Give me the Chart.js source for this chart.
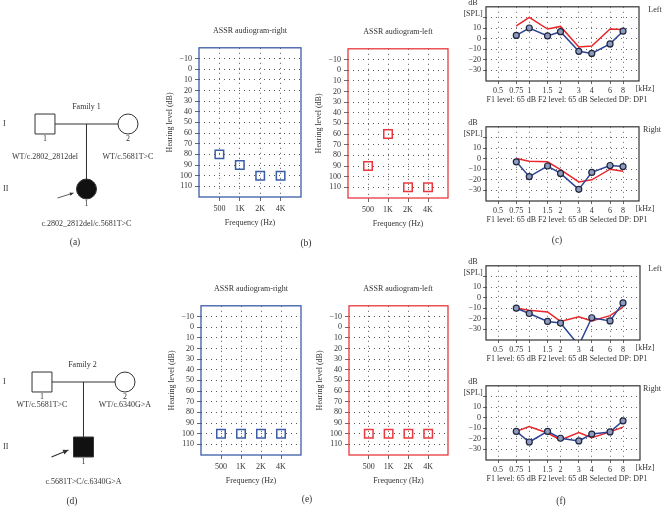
<!DOCTYPE html>
<html>
<head>
<meta charset="utf-8">
<script src="https://cdn.jsdelivr.net/npm/chart.js@4"></script>
<style>
  body { margin: 0; width: 666px; height: 507px; position: relative; background: #fff; overflow: hidden;
         font-family: 'Liberation Serif', 'DejaVu Serif', serif; color: #333; }
  .txt { position: absolute; font-size: 8px; white-space: nowrap; transform: translate(-50%, -50%); line-height: 1; }
  .lbl { font-size: 9.5px; }
</style>
</head>
<body>
<script>
// ---- pedigrees ----
const generations = ['I', 'II'];
const family1Title = 'Family 1';
const family1 = [
    { gen: 1, slot: 0, no: '1', sex: 'M', affected: false, genotype: 'WT/c.2802_2812del' },
    { gen: 1, slot: 2, no: '2', sex: 'F', affected: false, genotype: 'WT/c.5681T>C' },
    { gen: 2, slot: 1, no: '1', sex: 'F', affected: true, proband: true, genotype: 'c.2802_2812del/c.5681T>C' }
];
const family2Title = 'Family 2';
const family2 = [
    { gen: 1, slot: 0, no: '1', sex: 'M', affected: false, genotype: 'WT/c.5681T>C' },
    { gen: 1, slot: 2, no: '2', sex: 'F', affected: false, genotype: 'WT/c.6340G>A' },
    { gen: 2, slot: 1, no: '1', sex: 'M', affected: true, proband: true, genotype: 'c.5681T>C/c.6340G>A' }
];

// ---- ASSR thresholds (dB HL) ----
const assrFreqs = ['500', '1K', '2K', '4K'];
const assrLevels = [-10, 0, 10, 20, 30, 40, 50, 60, 70, 80, 90, 100, 110];
const fam1AssrRight = [80, 90, 100, 100];
const fam1AssrLeft = [90, 60, 110, 110];
const fam2AssrRight = [100, 100, 100, 100];
const fam2AssrLeft = [100, 100, 100, 100];

// ---- DPOAE (dB SPL) ----
const dpFreqs = [0.5, 0.75, 1, 1.5, 2, 3, 4, 6, 8];
const dpMeasured = [0.75, 1, 1.5, 2, 3, 4, 6, 8];
const dpLevels = [-30, -20, -10, 0, 10, 20];
const fam1DpLeftRed = [12, 20, 9, 11.5, -8, -7, 9, 8.5];
const fam1DpLeftBlue = [3, 10, 2.5, 6.5, -12, -14, -5, 7];
const fam1DpRightRed = [0, -2.5, -3, -10.5, -22, -20, -10, -12];
const fam1DpRightBlue = [-3, -17, -7, -14, -29, -13, -6.5, -7.5];
const fam2DpLeftRed = [-10, -12, -13.5, -22.5, -18, -22, -17, -9];
const fam2DpLeftBlue = [-10, -15, -22.5, -24, -45, -19, -22, -5];
const fam2DpRightRed = [-13, -8.5, -14.5, -21, -14, -19, -13.5, -9];
const fam2DpRightBlue = [-13, -23, -13, -19.5, -22, -15.5, -13.5, -3];

const serif = "'Liberation Serif', 'DejaVu Serif', serif";
Chart.defaults.font.family = serif;
Chart.defaults.font.size = 8;
Chart.defaults.color = '#333';

const fmt = v => v < 0 ? '\u2212' + (-v) : String(v);

function place(left, top, w, h) {
    const div = document.createElement('div');
    div.style.cssText = `position:absolute;left:${left}px;top:${top}px;width:${w}px;height:${h}px`;
    const c = document.createElement('canvas');
    c.width = w; c.height = h;
    div.appendChild(c);
    document.body.appendChild(div);
    return c;
}

function text(str, x, y, cls) {
    const d = document.createElement('div');
    d.className = 'txt' + (cls ? ' ' + cls : '');
    d.style.left = x + 'px';
    d.style.top = y + 'px';
    d.textContent = str;
    document.body.appendChild(d);
}

// border round the plot area
const framePlugin = {
    id: 'frame',
    afterDatasetsDraw(chart, args, opts) {
        const { ctx, chartArea: a } = chart;
        ctx.save();
        ctx.strokeStyle = opts.color;
        ctx.lineWidth = opts.width;
        ctx.strokeRect(a.left, a.top, a.right - a.left, a.bottom - a.top);
        ctx.restore();
    }
};

function dottedGrid(color, tickLength) {
    return { color: color, lineWidth: 1, tickLength: tickLength,
             tickBorderDash: [], tickColor: '#444', tickWidth: 0.8 };
}
const dottedBorder = { display: false, dash: [1, 4] };

function assrChart(area, values, color) {
    const [x0, y0, x1, y1] = area;
    const yW = 33, padL = 36, padR = 9, xH = 30, padB = 2;
    const left = x0 - padL - yW, top = y0;
    const w = (x1 - x0) + padL + yW + padR, h = (y1 - y0) + xH + padB;
    new Chart(place(left, top, w, h), {
        type: 'scatter',
        data: {
            datasets: [{
                data: values.map((v, i) => ({ x: i + 1, y: v })),
                pointStyle: 'rect', pointRadius: 6, pointHoverRadius: 6,
                borderColor: color, backgroundColor: 'rgba(0,0,0,0)', pointBorderWidth: 1.5
            }]
        },
        options: {
            responsive: false, animation: false, events: [],
            layout: { autoPadding: false, padding: { left: padL, right: padR, top: 0, bottom: padB } },
            plugins: { legend: { display: false }, tooltip: { enabled: false }, frame: { color: color, width: 1.3 } },
            scales: {
                x: {
                    type: 'linear', min: 0, max: 5,
                    afterBuildTicks: s => { s.ticks = assrFreqs.map((f, i) => ({ value: i + 1 })); },
                    afterFit: s => { s.height = xH; },
                    ticks: { callback: v => assrFreqs[v - 1], autoSkip: false, maxRotation: 0, padding: 3 },
                    grid: dottedGrid('#555', 4),
                    border: dottedBorder,
                    title: { display: true, text: 'Frequency (Hz)', padding: 0, font: { size: 8, lineHeight: 1 } }
                },
                y: {
                    type: 'linear', min: -20, max: 120, reverse: true,
                    afterBuildTicks: s => { s.ticks = assrLevels.map(v => ({ value: v })); },
                    afterFit: s => { s.width = yW; },
                    ticks: { callback: v => fmt(v), padding: 3, autoSkip: false },
                    grid: dottedGrid('#555', 4),
                    border: dottedBorder,
                    title: { display: true, text: 'Hearing level (dB)', padding: 0, font: { size: 8, lineHeight: 1 } }
                }
            }
        },
        plugins: [framePlugin]
    });
}

function dpChart(area, red, blue) {
    const [x0, y0, x1, y1] = area;
    const left = 440, w = 226, yW = 20, xH = 15;
    const padL = x0 - left - yW, padR = left + w - x1;
    const top = y0 - 5, h = (y1 - y0) + 5 + xH + 1;
    new Chart(place(left, top, w, h), {
        type: 'line',
        data: {
            datasets: [
                { data: blue.map((v, i) => ({ x: dpMeasured[i], y: v })), borderColor: '#2d4595', borderWidth: 1.5,
                  pointRadius: 3, pointHoverRadius: 3, pointBorderColor: '#1e2640', pointBorderWidth: 1.2,
                  pointBackgroundColor: '#8e9bbd', tension: 0 },
                { data: red.map((v, i) => ({ x: dpMeasured[i], y: v })), borderColor: '#e8262b', borderWidth: 1.5,
                  pointRadius: 0, tension: 0 }
            ]
        },
        options: {
            responsive: false, animation: false, events: [],
            layout: { autoPadding: false, padding: { left: padL, right: padR, top: 5, bottom: 1 } },
            plugins: { legend: { display: false }, tooltip: { enabled: false }, frame: { color: '#333', width: 1.2 } },
            scales: {
                x: {
                    type: 'logarithmic', min: 0.383, max: 0.383 * Math.pow(2, (x1 - x0) / 31.25),
                    afterBuildTicks: s => { s.ticks = dpFreqs.map(v => ({ value: v })); },
                    afterFit: s => { s.height = xH; },
                    ticks: { callback: v => String(v), autoSkip: false, maxRotation: 0, padding: 2 },
                    grid: dottedGrid('#666', 3),
                    border: dottedBorder
                },
                y: {
                    type: 'linear', min: -40, max: 30,
                    afterBuildTicks: s => { s.ticks = dpLevels.map(v => ({ value: v })); },
                    afterFit: s => { s.width = yW; },
                    ticks: { callback: v => v >= 20 ? '' : fmt(v), padding: 2, autoSkip: false },
                    grid: dottedGrid('#666', 3),
                    border: dottedBorder
                }
            }
        },
        plugins: [framePlugin]
    });
}

// texts and proband arrow of a pedigree, placed through the chart scales
const pedigreeLabels = {
    id: 'pedigreeLabels',
    afterDatasetsDraw(chart, args, o) {
        const { ctx, scales: { x, y } } = chart;
        ctx.save();
        ctx.fillStyle = '#333';
        ctx.strokeStyle = '#333';
        ctx.font = `8px ${serif}`;
        ctx.textAlign = 'center';
        ctx.textBaseline = 'middle';
        const child = o.members.find(m => m.gen === 2);
        ctx.fillText(o.title, x.getPixelForValue(child.slot) + o.titleDx, y.getPixelForValue(1) - 17);
        generations.forEach((g, i) => {
            ctx.textAlign = 'left';
            ctx.fillText(g, o.numeralX, y.getPixelForValue(i + 1));
        });
        ctx.textAlign = 'center';
        o.members.forEach(m => {
            const px = x.getPixelForValue(m.slot), py = y.getPixelForValue(m.gen);
            ctx.fillText(m.no, px, py + 15);
            ctx.fillText(m.genotype, px, py + (m.gen === 1 ? o.parentDy : 35));
            if (m.proband) {
                const sx = px - o.arrow[0], sy = py + o.arrow[1], ex = px - o.arrow[2], ey = py + o.arrow[3];
                ctx.lineWidth = o.arrowWidth;
                ctx.beginPath(); ctx.moveTo(sx, sy); ctx.lineTo(ex, ey); ctx.stroke();
                const ang = Math.atan2(ey - sy, ex - sx), hl = o.headLen;
                ctx.beginPath();
                ctx.moveTo(ex, ey);
                ctx.lineTo(ex - hl * Math.cos(ang - 0.45), ey - hl * Math.sin(ang - 0.45));
                ctx.lineTo(ex - hl * Math.cos(ang + 0.45), ey - hl * Math.sin(ang + 0.45));
                ctx.closePath(); ctx.fill();
            }
        });
        ctx.restore();
    }
};

function pedigreeChart(left, top, members, labels) {
    const w = 172, h = 160;
    const father = members.find(m => m.gen === 1 && m.sex === 'M');
    const mother = members.find(m => m.gen === 1 && m.sex === 'F');
    const child = members.find(m => m.gen === 2);
    const line = { showLine: true, pointRadius: 0, borderColor: '#333', borderWidth: 1 };
    new Chart(place(left, top, w, h), {
        type: 'scatter',
        data: {
            datasets: [
                { data: members.map(m => ({ x: m.slot, y: m.gen })),
                  pointStyle: members.map(m => m.sex === 'M' ? 'rect' : 'circle'),
                  pointRadius: members.map(m => m.sex === 'M' ? 14.1 : 10),
                  pointHoverRadius: members.map(m => m.sex === 'M' ? 14.1 : 10),
                  pointBackgroundColor: members.map(m => m.affected ? '#111' : '#fff'),
                  pointBorderColor: '#333', pointBorderWidth: 1 },
                Object.assign({ data: [{ x: father.slot, y: father.gen }, { x: mother.slot, y: mother.gen }] }, line),
                Object.assign({ data: [{ x: child.slot, y: father.gen }, { x: child.slot, y: child.gen }] }, line)
            ]
        },
        options: {
            responsive: false, animation: false, events: [],
            layout: { autoPadding: false, padding: 0 },
            plugins: { legend: { display: false }, tooltip: { enabled: false },
                       pedigreeLabels: Object.assign({ members: members }, labels) },
            scales: {
                x: { display: false, min: -1.084, max: -1.084 + w / 41.5 },
                y: { display: false, reverse: true, min: 1 - 34 / 65, max: 1 - 34 / 65 + h / 65 }
            }
        },
        plugins: [pedigreeLabels]
    });
}

// ---- (a) (d) pedigrees ----
pedigreeChart(0, 90, family1, { title: family1Title, titleDx: 0, numeralX: 3, parentDy: 33,
    arrow: [29, 9, 13, 4], arrowWidth: 0.8, headLen: 4 });
pedigreeChart(-3, 348, family2, { title: family2Title, titleDx: -1, numeralX: 6, parentDy: 23,
    arrow: [32, 10, 15, 3], arrowWidth: 1.2, headLen: 6 });
text('(a)', 75, 243, 'lbl');
text('(d)', 72, 502, 'lbl');

// ---- (b) (e) ASSR audiograms ----
assrChart([199, 40, 301, 197], fam1AssrRight, '#3a5ca6');
assrChart([348, 41, 448, 198], fam1AssrLeft, '#e8383d');
assrChart([201, 298, 301, 455], fam2AssrRight, '#3a5ca6');
assrChart([349, 298, 448, 455], fam2AssrLeft, '#e8383d');
text('ASSR audiogram-right', 250, 31);
text('ASSR audiogram-left', 398, 32);
text('ASSR audiogram-right', 251, 289);
text('ASSR audiogram-left', 398, 289);
text('(b)', 306, 244, 'lbl');
text('(e)', 307, 500, 'lbl');

// ---- (c) (f) DPOAE ----
const dpPanels = [
    { area: [486, 5, 639, 81], red: fam1DpLeftRed, blue: fam1DpLeftBlue, side: 'Left' },
    { area: [486, 125, 639, 201], red: fam1DpRightRed, blue: fam1DpRightBlue, side: 'Right' },
    { area: [486, 264, 640, 340], red: fam2DpLeftRed, blue: fam2DpLeftBlue, side: 'Left' },
    { area: [486, 384, 640, 460], red: fam2DpRightRed, blue: fam2DpRightBlue, side: 'Right' }
];
dpPanels.forEach(p => {
    dpChart(p.area, p.red, p.blue);
    const [x0, y0, x1, y1] = p.area;
    text('dB', 473, y0 - 2);
    text('[SPL]', 473, y0 + 9);
    text(p.side, p.side === 'Left' ? 655 : 652, y0 + 5);
    text('[kHz]', 645, y1 + 8);
    text('F1 level: 65 dB   F2 level: 65 dB   Selected DP: DP1', 567, y1 + 19);
});
text('(c)', 557, 241, 'lbl');
text('(f)', 561, 502, 'lbl');
</script>
</body>
</html>
